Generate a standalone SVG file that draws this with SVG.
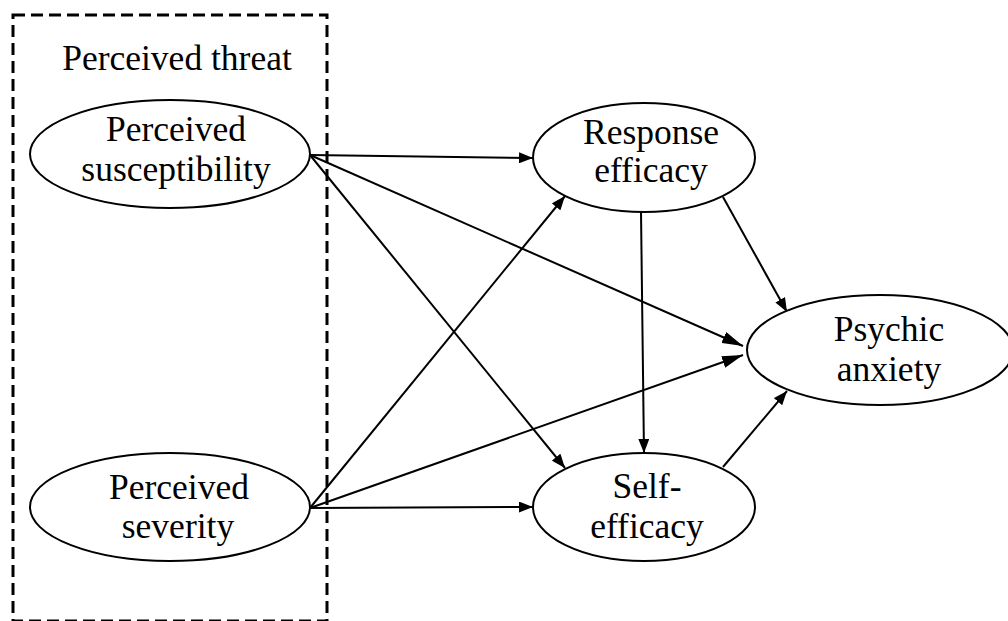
<svg xmlns="http://www.w3.org/2000/svg" width="1008" height="621" viewBox="0 0 1008 621">
<style>
  .node ellipse { fill: #fff; stroke: #000; stroke-width: 2; }
  text { font-family: "Liberation Serif", "Times New Roman", serif; font-size: 35.5px; fill: #000; text-anchor: middle; }
  .edge { stroke: #000; stroke-width: 2; fill: none; }
  .box { fill: none; stroke: #000; stroke-width: 3; stroke-dasharray: 12 6; }
</style>
<defs>
  <marker id="ah" markerUnits="userSpaceOnUse" markerWidth="14" markerHeight="11" refX="14" refY="5.5" orient="auto">
    <path d="M0,0 L14,5.5 L0,11 z" fill="#000"/>
  </marker>
  <marker id="ahb" markerUnits="userSpaceOnUse" markerWidth="21" markerHeight="12" refX="21" refY="6" orient="auto">
    <path d="M0,0 L21,6 L0,12 z" fill="#000"/>
  </marker>
</defs>
<rect width="1008" height="621" fill="#fff"/>
<g id="threat-group">
  <rect class="box" x="13" y="15" width="314" height="606"/>
  <text x="177" y="70">Perceived threat</text>
</g>
<g id="connectors">
  <line class="edge" x1="310" y1="155" x2="533" y2="158" marker-end="url(#ah)" stroke-width="2.6"/>
  <line class="edge" x1="310" y1="155" x2="743" y2="346" marker-end="url(#ahb)"/>
  <line class="edge" x1="310" y1="155" x2="565" y2="468" marker-end="url(#ah)"/>
  <line class="edge" x1="310" y1="508" x2="565" y2="196" marker-end="url(#ah)"/>
  <line class="edge" x1="310" y1="508" x2="743" y2="355" marker-end="url(#ahb)"/>
  <line class="edge" x1="310" y1="508" x2="533" y2="507" marker-end="url(#ah)"/>
  <line class="edge" x1="641" y1="212" x2="644" y2="453" marker-end="url(#ah)"/>
  <line class="edge" x1="723" y1="197" x2="787" y2="312" marker-end="url(#ah)"/>
  <line class="edge" x1="723" y1="467" x2="787" y2="391" marker-end="url(#ah)"/>
</g>
<g id="perceived-susceptibility" class="node">
  <ellipse cx="170" cy="154" rx="140" ry="54"/>
  <text x="176" y="141">Perceived</text>
  <text x="176" y="181">susceptibility</text>
</g>
<g id="perceived-severity" class="node">
  <ellipse cx="170" cy="507" rx="140" ry="54"/>
  <text x="179" y="499">Perceived</text>
  <text x="178" y="538">severity</text>
</g>
<g id="response-efficacy" class="node">
  <ellipse cx="644" cy="157.5" rx="111" ry="54.5"/>
  <text x="651" y="144">Response</text>
  <text x="651" y="182">efficacy</text>
</g>
<g id="self-efficacy" class="node">
  <ellipse cx="644" cy="507" rx="111" ry="54"/>
  <text x="647" y="498">Self-</text>
  <text x="647" y="538">efficacy</text>
</g>
<g id="psychic-anxiety" class="node">
  <ellipse cx="880" cy="350" rx="133" ry="55"/>
  <text x="889" y="341">Psychic</text>
  <text x="889" y="381">anxiety</text>
</g>
</svg>
